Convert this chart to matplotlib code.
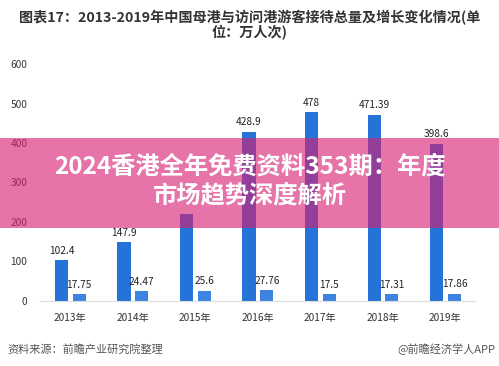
import numpy as np
import matplotlib
matplotlib.use("Agg")
from matplotlib import pyplot as plt
from matplotlib.patches import Rectangle

plt.rcParams["font.family"] = ["Noto Sans CJK SC", "DejaVu Sans"]

# data
years = ["2013年", "2014年", "2015年", "2016年", "2017年", "2018年", "2019年"]
home_port = [102.4, 147.9, 221.0, 428.9, 478.0, 471.39, 398.6]
visit_port = [17.75, 24.47, 25.6, 27.76, 17.5, 17.31, 17.86]
home_labels = ["102.4", "147.9", "", "428.9", "478", "471.39", "398.6"]
visit_labels = ["17.75", "24.47", "25.6", "27.76", "17.5", "17.31", "17.86"]
yticks = [0, 100, 200, 300, 400, 500, 600]

title = "图表17：2013-2019年中国母港与访问港游客接待总量及增长变化情况(单\n位：万人次)"
banner = "2024香港全年免费资料353期：年度\n市场趋势深度解析"

fig = plt.figure(figsize=(4.99, 3.66), dpi=100)
ax = fig.add_axes([0.08, 0.178, 0.872, 0.647])

x = np.arange(len(years))
w = 0.21
b1 = ax.bar(x - 0.135, home_port, w, color="#2573d9")
b2 = ax.bar(x + 0.15, visit_port, w, color="#3d84e2")

for rect, lab in zip(b1, home_labels):
    if lab:
        ax.text(rect.get_x() + rect.get_width() / 2, rect.get_height() + 11, lab,
                ha="center", va="bottom", fontsize=7.3, color="#222222")
for rect, lab in zip(b2, visit_labels):
    ax.text(rect.get_x() + rect.get_width() / 2, rect.get_height() + 11, lab,
            ha="center", va="bottom", fontsize=7.3, color="#222222")

ax.set_xlim(-0.48, 6.48)
ax.set_ylim(0, 600)
ax.set_yticks(yticks)
ax.set_xticks(x)
ax.set_xticklabels(years)
ax.tick_params(axis="both", length=0, labelsize=7.3, colors="#333333")
ax.tick_params(axis="x", pad=9)
ax.tick_params(axis="y", pad=9)
for s in ["top", "right", "left"]:
    ax.spines[s].set_visible(False)
ax.spines["bottom"].set_color("#dddddd")

fig.text(0.5, 0.972, title, ha="center", va="top", fontsize=10.2, fontweight="bold",
         color="#333333", linespacing=0.95)

fig.text(0.014, 0.045, "资料来源：前瞻产业研究院整理", ha="left", va="center",
         fontsize=8, color="#555555")
fig.text(0.992, 0.045, "@前瞻经济学人APP", ha="right", va="center",
         fontsize=8, color="#555555")

# pink banner overlay
fig.patches.append(Rectangle((0, 1 - 228 / 366), 1, 90 / 366, transform=fig.transFigure,
                             facecolor="#d81f74", alpha=0.62, edgecolor="none", zorder=5))
fig.text(0.5, 1 - 181 / 366, banner, ha="center", va="center", fontsize=17.5,
         fontweight="bold", color="white", linespacing=1.3, zorder=6)

fig.savefig("out.png", dpi=100)
